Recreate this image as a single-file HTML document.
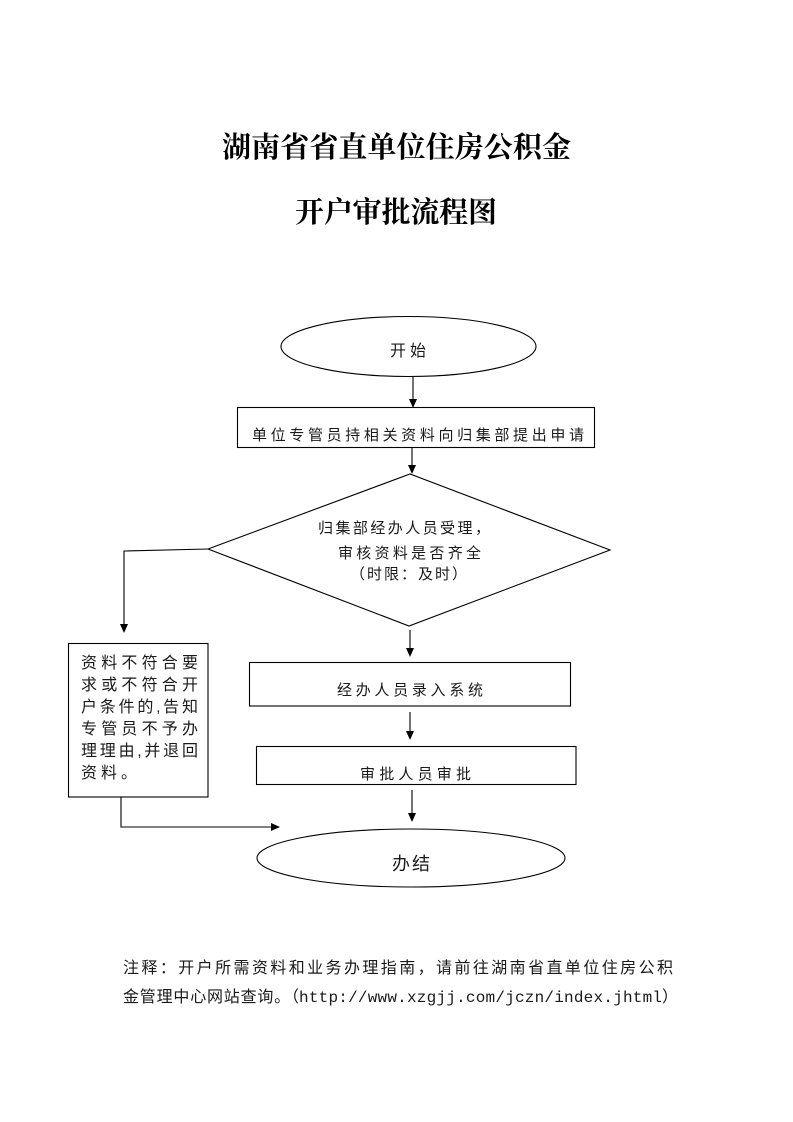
<!DOCTYPE html>
<html>
<head>
<meta charset="utf-8">
<style>
html,body{margin:0;padding:0;background:#fff;}
svg{display:block;}
.t{font-family:"Liberation Sans","Noto Sans CJK SC",sans-serif;fill:#1a1a1a;}
.c{font-family:"Noto Sans CJK SC",sans-serif;fill:#1a1a1a;}
.title{font-family:"Liberation Serif","Noto Serif CJK SC",serif;font-weight:700;fill:#000;}
</style>
</head>
<body>
<svg width="793" height="1122" viewBox="0 0 793 1122" xmlns="http://www.w3.org/2000/svg">
<rect width="793" height="1122" fill="#fff"/>

<!-- Title -->
<text class="title" x="222" y="157" font-size="29" textLength="349" lengthAdjust="spacing">湖南省省直单位住房公积金</text>
<text class="title" x="295" y="222" font-size="29" textLength="202" lengthAdjust="spacing">开户审批流程图</text>

<g stroke="#000" stroke-width="1.1" fill="none">
  <ellipse cx="408.5" cy="346.5" rx="127.5" ry="30"/>
  <rect x="237.5" y="407.5" width="357" height="40"/>
  <polygon points="208,549 410,474 610,550 409,626"/>
  <rect x="249.5" y="662.5" width="321" height="43.5"/>
  <rect x="256.5" y="746.5" width="319.5" height="38"/>
  <ellipse cx="411" cy="858" rx="154" ry="29"/>
  <rect x="68.5" y="643.5" width="139.5" height="153.5"/>

  <line x1="413" y1="377" x2="413" y2="400"/>
  <line x1="412" y1="448" x2="412" y2="466"/>
  <polyline points="208,549 124,551 124,625"/>
  <line x1="410" y1="630" x2="410" y2="649"/>
  <line x1="410" y1="712" x2="410" y2="732"/>
  <line x1="412" y1="790" x2="412" y2="814"/>
  <polyline points="121,797 121,827 272,827"/>
</g>

<g fill="#000">
  <polygon points="409,399 417,399 413,408"/>
  <polygon points="408,465 416,465 412,474"/>
  <polygon points="120,624 128,624 124,633"/>
  <polygon points="406,648 414,648 410,657"/>
  <polygon points="406,731 414,731 410,740"/>
  <polygon points="408,813 416,813 412,822"/>
  <polygon points="271,823 271,831 280,827"/>
</g>

<!-- Node text -->
<text class="c" x="390" y="356" font-size="16" textLength="36" lengthAdjust="spacing">开始</text>
<text class="c" x="252" y="440" font-size="15" textLength="332" lengthAdjust="spacing">单位专管员持相关资料向归集部提出申请</text>

<text class="c" x="318" y="533" font-size="15" textLength="172" lengthAdjust="spacing">归集部经办人员受理，</text>
<text class="c" x="338" y="558" font-size="15" textLength="143" lengthAdjust="spacing">审核资料是否齐全</text>
<text class="c" x="350" y="579" font-size="15" textLength="117" lengthAdjust="spacing">（时限：及时）</text>

<text class="c" x="337" y="695" font-size="15" textLength="146" lengthAdjust="spacing">经办人员录入系统</text>
<text class="c" x="360" y="779" font-size="15" textLength="111" lengthAdjust="spacing">审批人员审批</text>
<text class="c" x="392" y="870" font-size="18" textLength="38" lengthAdjust="spacing">办结</text>

<g class="c" font-size="16">
  <text x="81" y="668" textLength="117" lengthAdjust="spacing">资料不符合要</text>
  <text x="81" y="690" textLength="117" lengthAdjust="spacing">求或不符合开</text>
  <text x="81" y="712" textLength="117" lengthAdjust="spacing">户条件的<tspan font-family="Liberation Sans" font-size="15">,</tspan>告知</text>
  <text x="81" y="734" textLength="117" lengthAdjust="spacing">专管员不予办</text>
  <text x="81" y="756" textLength="117" lengthAdjust="spacing">理理由<tspan font-family="Liberation Sans" font-size="15">,</tspan>并退回</text>
  <text x="81" y="778" textLength="56" lengthAdjust="spacing">资料。</text>
</g>

<!-- Footnote -->
<text class="c" x="123" y="973" font-size="16" textLength="550" lengthAdjust="spacing">注释：开户所需资料和业务办理指南，请前往湖南省直单位住房公积</text>
<text class="c" x="123" y="1002" font-size="16" textLength="176" lengthAdjust="spacing">金管理中心网站查询。（</text>
<text x="299" y="1002" font-family="Liberation Mono, monospace" font-size="16" fill="#1a1a1a" textLength="363" lengthAdjust="spacing">http://www.xzgjj.com/jczn/index.jhtml</text>
<text class="c" x="662" y="1002" font-size="16">）</text>
</svg>
</body>
</html>
